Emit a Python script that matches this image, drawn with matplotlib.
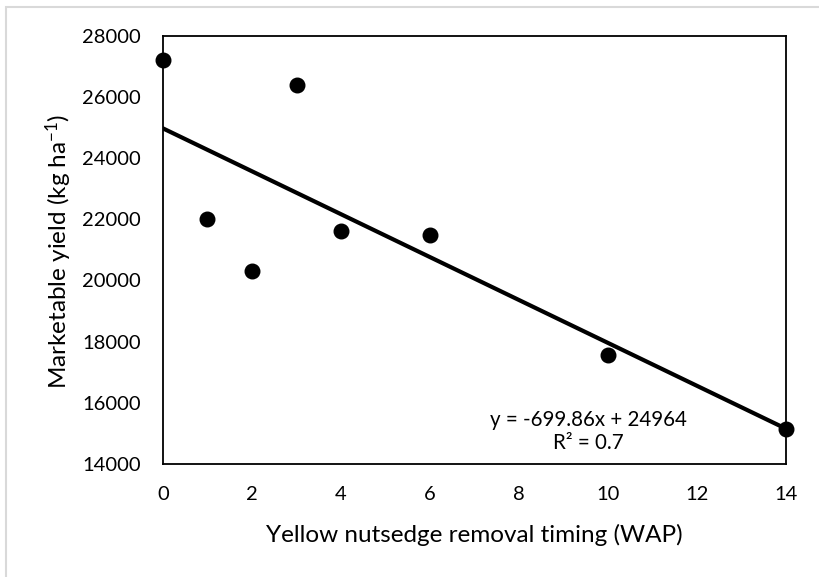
import matplotlib
matplotlib.use('Agg')
import matplotlib.pyplot as plt
import numpy as np
from matplotlib.patches import Rectangle

plt.rcParams['font.family'] = ['Lato', 'DejaVu Sans']
plt.rcParams['mathtext.fontset'] = 'custom'
plt.rcParams['mathtext.rm'] = 'Lato'
plt.rcParams['mathtext.it'] = 'Lato:italic'

# removal timing (WAP) and marketable yield
wap = [0, 1, 2, 3, 4, 6, 10, 14]
yield_kg = [27200, 22000, 20300, 26400, 21600, 21500, 17550, 15150]

x_ticks = [0, 2, 4, 6, 8, 10, 12, 14]
y_ticks = [14000, 16000, 18000, 20000, 22000, 24000, 26000, 28000]

equation = 'y = -699.86x + 24964\nR² = 0.7'

fig = plt.figure(figsize=(8.19, 5.77), dpi=100)
ax = fig.add_axes([0.199, 0.196, 0.761, 0.742])

# grey chart-area border (top and left visible)
fig.patches.append(Rectangle((6 / 819, -0.1), 1.2, 1 - 7 / 577 + 0.1,
                             transform=fig.transFigure, fill=False,
                             edgecolor='#d9d9d9', linewidth=1.5))

ax.scatter(wap, yield_kg, s=110, color='black', zorder=3, clip_on=False)

# linear trendline
coef = np.polyfit(wap, yield_kg, 1)
xs = np.array([0, 14])
ax.plot(xs, np.polyval(coef, xs), color='black', linewidth=3, zorder=2)

ax.text(9.55, 15060, equation, ha='center', va='center', fontsize=14.8,
        linespacing=1.2)

ax.set_xlim(0, 14)
ax.set_ylim(14000, 28000)
ax.set_xticks(x_ticks)
ax.set_yticks(y_ticks)
ax.tick_params(length=0, labelsize=14.5)
ax.tick_params(axis='x', pad=16)
ax.tick_params(axis='y', pad=16)
for sp in ax.spines.values():
    sp.set_linewidth(1.3)

ax.set_xlabel('Yellow nutsedge removal timing (WAP)', fontsize=17.5, labelpad=15)
fig.text(59 / 819, 0.565, 'Marketable yield (kg ha$^{-1}$)', fontsize=17.5,
         rotation=90, ha='center', va='center')

fig.savefig('out.png', dpi=100)
